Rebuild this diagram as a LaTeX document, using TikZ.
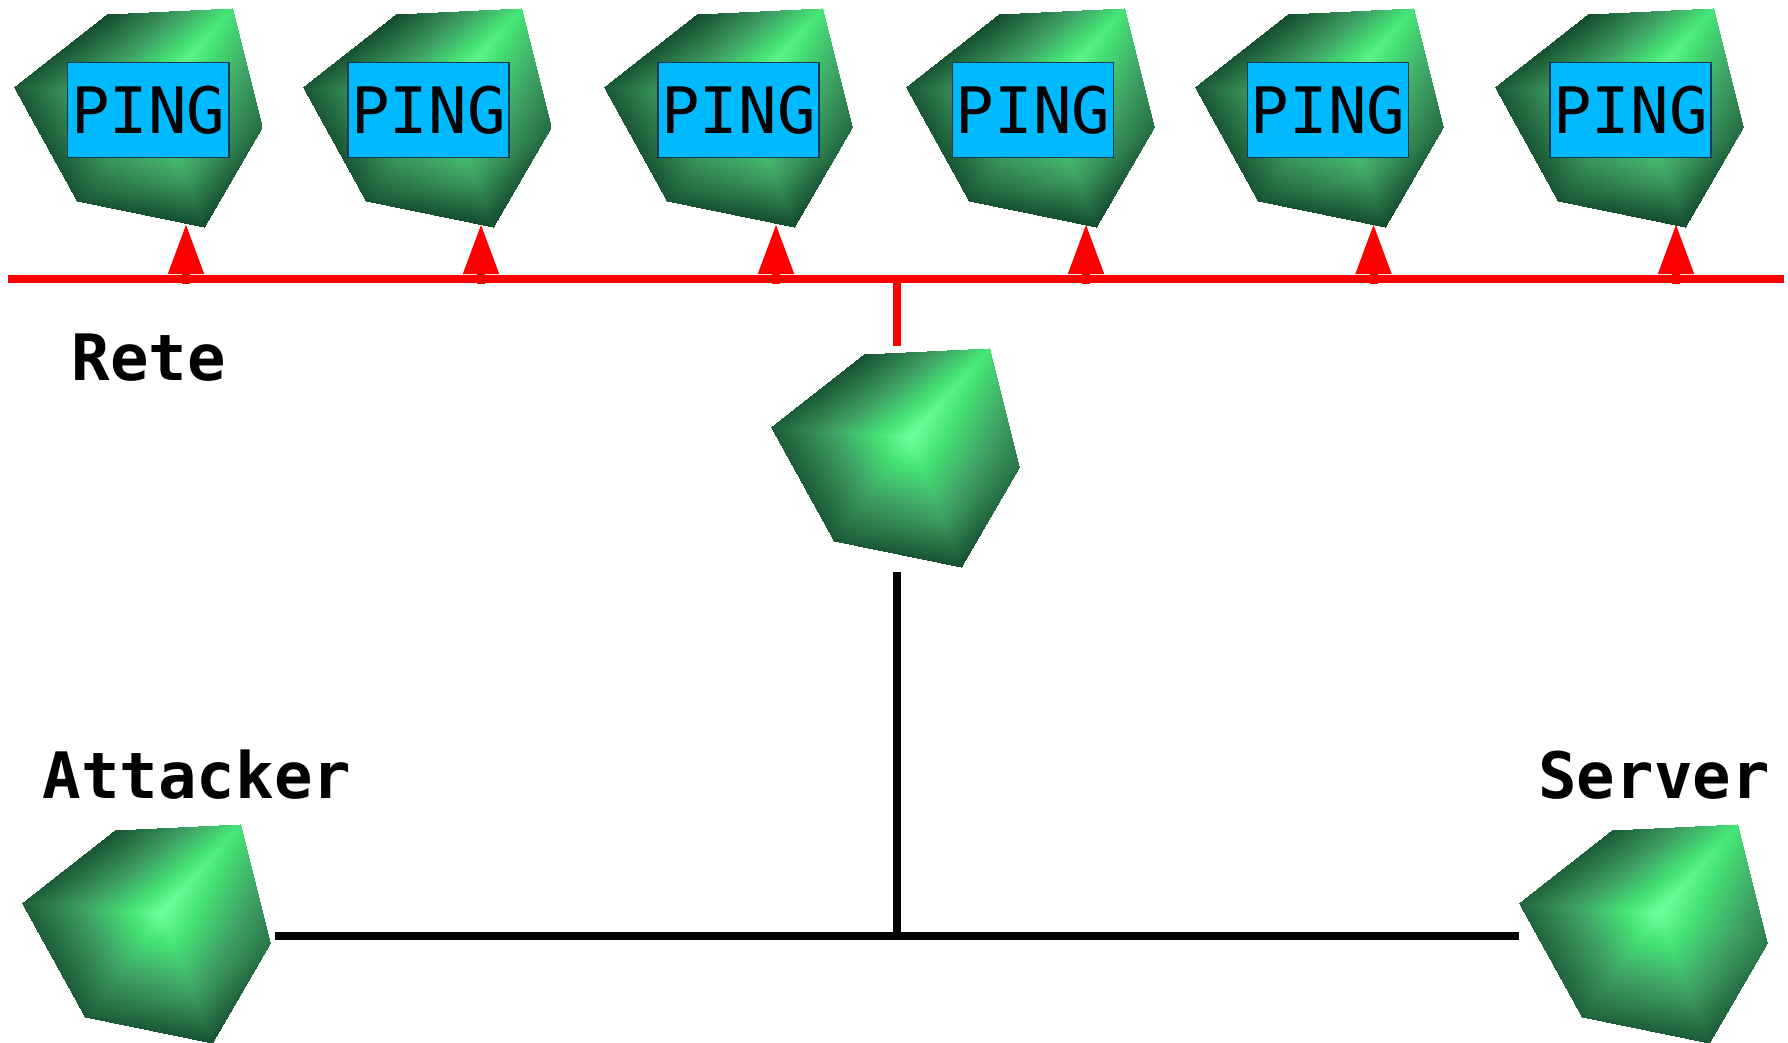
\documentclass[tikz,border=0pt]{standalone}
\usepackage{fontspec}
\setmonofont{DejaVu Sans Mono}
\usepackage{pgfplots}
\pgfplotsset{compat = 1.18}
\usetikzlibrary{arrows.meta}

\definecolor{pingblue}{HTML}{00B9FF}
\definecolor{pingedge}{HTML}{0A3A50}

% one pentagon as a fan of triangles, brightness given per corner
% #1,#2 shift, #3 how dark the rim is
\pgfplotsset{colormap={hostgreen}{rgb255(0cm)=(18,72,42) rgb255(5cm)=(62,160,100) rgb255(8cm)=(70,228,118) rgb255(10cm)=(114,255,158)}}
\newcommand{\hostshape}[3]{%
	\pgfmathsetmacro{\rimtl}{#3}%
	\pgfmathsetmacro{\riml}{#3+.07}%
	\pgfmathsetmacro{\rimbl}{#3+.05}%
	\pgfmathsetmacro{\rimr}{#3+.2}%
	\addplot[patch,shader=interp,patch type=triangle,point meta=explicit] coordinates {
		(153+#1,97+#2) [1] (232+#1,8+#2) [.8] (107+#1,14+#2) [\rimtl]
		(153+#1,97+#2) [1] (107+#1,14+#2) [\rimtl] (14+#1,87+#2) [\riml]
		(153+#1,97+#2) [1] (14+#1,87+#2) [\riml] (77+#1,201+#2) [\rimbl]
		(153+#1,97+#2) [1] (77+#1,201+#2) [\rimbl] (185+#1,178+#2) [.5]
		(185+#1,178+#2) [.5] (77+#1,201+#2) [\rimbl] (204+#1,227+#2) [\rimtl]
		(153+#1,97+#2) [1] (185+#1,178+#2) [.5] (262+#1,127+#2) [\rimr]
		(185+#1,178+#2) [.5] (204+#1,227+#2) [\rimtl] (262+#1,127+#2) [\rimr]
		(153+#1,97+#2) [1] (262+#1,127+#2) [\rimr] (232+#1,8+#2) [.8]
	};%
}
\tikzset{
	bus/.style={line width=.08cm},
	pingbox/.style={draw=pingedge,line width=.4pt,fill=pingblue,minimum width=1.61cm,minimum height=.955cm,inner sep=0pt,font=\ttfamily\fontsize{18.2}{20}\selectfont},
	hostlabel/.style={inner sep=0pt,font=\ttfamily\bfseries\fontsize{18.2}{20}\selectfont},
	ping/.style={red,bus,-{Triangle[length=.5cm,width=.34cm]}}
}

\begin{document}
\begin{tikzpicture}[x=.01cm,y=-.01cm]
	\useasboundingbox (0,0) rectangle (1788,1042);
	
	% Hosts
	\begin{axis}[at={(0,0)},anchor=north west,x=.01cm,y=.01cm,y dir=reverse,xmin=0,xmax=1788,ymin=0,ymax=1042,hide axis,scale only axis,clip=true,point meta min=0,point meta max=1]
		\hostshape{0}{0}{.02}
		\hostshape{289}{0}{.02}
		\hostshape{590}{0}{.02}
		\hostshape{892.5}{0}{.02}
		\hostshape{1181}{0}{.02}
		\hostshape{1481}{0}{.02}
		\hostshape{757}{340}{.05}
		\hostshape{8}{816}{.06}
		\hostshape{1505}{816}{.1}
	\end{axis}
	
	% PING boxes
	\foreach \boxname/\x in {a/148.3,b/428.5,c/738.5,d/1033,e/1328,f/1630.5}
		\node[pingbox] (ping\boxname) at (\x,110) {PING};
	
	% Red segment
	\coordinate (busleft) at (8,279);
	\coordinate (busright) at (1784,279);
	\coordinate (busdrop) at (897,279);
	\coordinate (switchtop) at (897,346);
	\draw[red,bus] (busleft) -- (busright);
	\draw[red,bus] (busdrop) -- (switchtop);
	\foreach \x in {186,481,776,1086,1373.5,1676}
		\draw[ping] (\x,283.5) -- (\x,224);
	
	% Black segment
	\coordinate (switchbottom) at (897,572);
	\coordinate (lanjoin) at (897,935.5);
	\coordinate (attackerport) at (275,935.5);
	\coordinate (serverport) at (1519,935.5);
	\draw[bus] (switchbottom) -- (lanjoin);
	\draw[bus] (attackerport) -- (serverport);
	
	% Labels
	\node[hostlabel] (rete) at (149,358) {Rete};
	\node[hostlabel] (attacker) at (197,775) {Attacker};
	\node[hostlabel] (server) at (1654,775) {Server};
\end{tikzpicture}
\end{document}
